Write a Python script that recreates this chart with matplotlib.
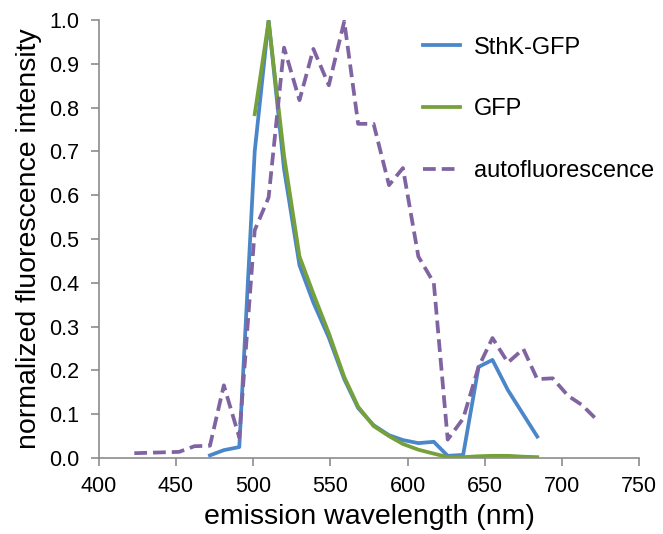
import matplotlib
matplotlib.use("Agg")
import matplotlib.pyplot as plt

plt.rcParams['font.family'] = ['Liberation Sans', 'DejaVu Sans']

# emission spectra
wl_sthk = [472, 481, 491, 501, 510, 520, 530, 539, 549, 559, 568, 578, 588,
           597, 607, 617, 626, 636, 646, 655, 665, 684]
sthk_gfp = [0.006, 0.018, 0.025, 0.70, 1.0, 0.66, 0.44, 0.355, 0.275, 0.18,
            0.114, 0.075, 0.052, 0.041, 0.034, 0.037, 0.005, 0.007, 0.208,
            0.224, 0.155, 0.049]

wl_gfp = [501, 510, 520, 530, 539, 549, 559, 568, 578, 588, 597, 607, 617,
          626, 636, 646, 655, 665, 675, 684]
gfp = [0.785, 0.997, 0.69, 0.46, 0.375, 0.285, 0.185, 0.117, 0.073, 0.05,
       0.032, 0.019, 0.01, 0.002, 0.002, 0.004, 0.005, 0.005, 0.003, 0.002]

wl_auto = [423, 452, 462, 472, 481, 491, 501, 510, 520, 530, 539, 549, 559,
           568, 578, 588, 597, 607, 617, 626, 636, 646, 655, 665, 675, 684,
           694, 704, 713, 723]
auto = [0.011, 0.014, 0.027, 0.028, 0.166, 0.047, 0.52, 0.595, 0.937, 0.817,
        0.934, 0.851, 0.997, 0.763, 0.763, 0.623, 0.662, 0.46, 0.40, 0.042,
        0.09, 0.208, 0.274, 0.218, 0.249, 0.18, 0.182, 0.142, 0.121, 0.086]

fig = plt.figure(figsize=(6.63, 5.34), dpi=100)
ax = fig.add_axes([0.149, 0.1423, 0.815, 0.8202])

ax.plot(wl_sthk, sthk_gfp, color='#4a86c8', lw=2.7, label='SthK-GFP')
ax.plot(wl_gfp, gfp, color='#76a03a', lw=2.7, label='GFP')
ax.plot(wl_auto, auto, color='#8064a2', lw=2.7, dashes=(3.4, 1.6),
        label='autofluorescence')

ax.set_xlim(400, 750)
ax.set_ylim(0, 1.0)
ax.set_xticks(range(400, 751, 50))
ax.set_yticks([i / 10 for i in range(11)])
ax.set_yticklabels([f'{i / 10:.1f}' for i in range(11)])

for s in ['top', 'right']:
    ax.spines[s].set_visible(False)
for s in ['left', 'bottom']:
    ax.spines[s].set_color('#8c8c8c')
    ax.spines[s].set_linewidth(1.2)
ax.tick_params(direction='out', length=6, width=1.2, color='#8c8c8c',
               labelsize=15.5)
ax.tick_params(axis='y', pad=8)
ax.tick_params(axis='x', pad=7)

ax.set_xlabel('emission wavelength (nm)', fontsize=20.5, labelpad=5)
ax.set_ylabel('normalized fluorescence intensity', fontsize=20.5, labelpad=5)

ax.legend(loc='upper left', bbox_to_anchor=(0.6, 0.962), frameon=False,
          fontsize=17, handlelength=1.55, handletextpad=0.6,
          labelspacing=1.68, borderaxespad=0, borderpad=0)

fig.savefig('out.png', dpi=100)
